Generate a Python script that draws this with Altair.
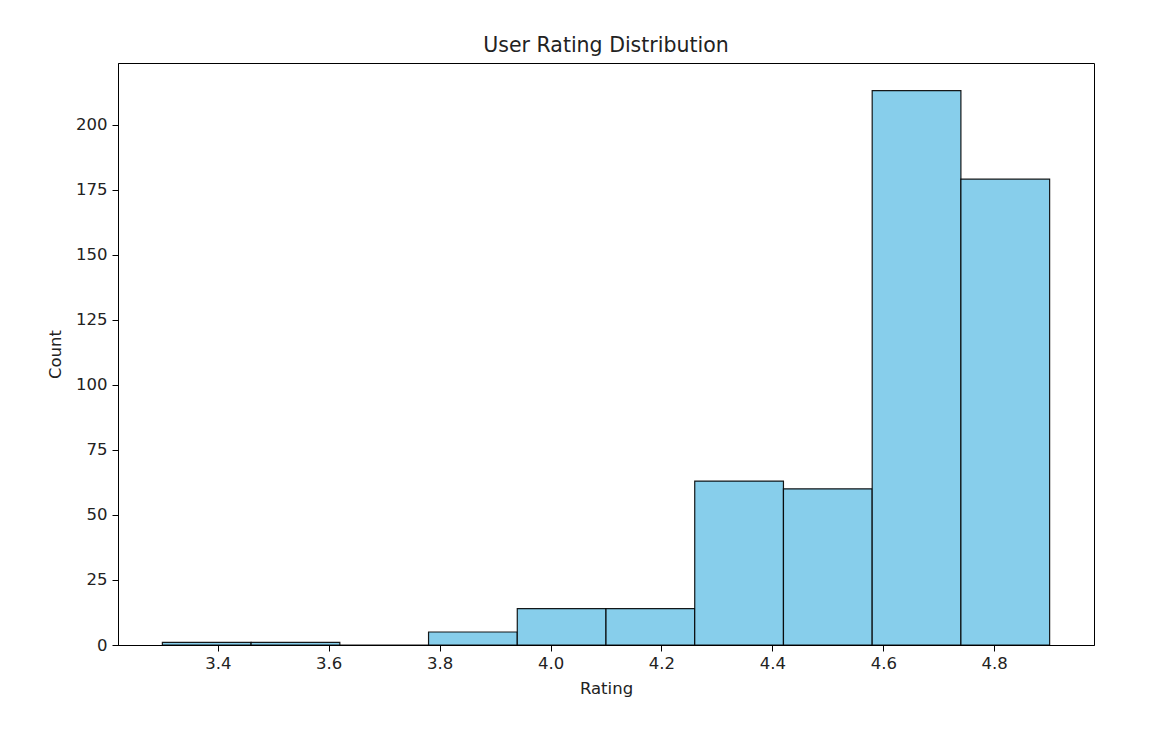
import altair as alt
import pandas as pd

bin_starts = [3.30, 3.46, 3.62, 3.78, 3.94, 4.10, 4.26, 4.42, 4.58, 4.74]
bin_ends = [3.46, 3.62, 3.78, 3.94, 4.10, 4.26, 4.42, 4.58, 4.74, 4.90]
counts = [1, 1, 0, 5, 14, 14, 63, 60, 213, 179]
x_ticks = [3.4, 3.6, 3.8, 4.0, 4.2, 4.4, 4.6, 4.8]
y_ticks = [0, 25, 50, 75, 100, 125, 150, 175, 200]

df = pd.DataFrame({"start": bin_starts, "end": bin_ends, "count": counts, "base": [0] * len(counts)})

font = "DejaVu Sans"
fs = 16.5

chart = alt.Chart(df).mark_bar(
    color="#87CEEB", stroke="black", strokeWidth=1.2, strokeOpacity=0.9
).encode(
    x=alt.X("start:Q", title="Rating",
            scale=alt.Scale(domain=[3.22, 4.98], nice=False, zero=False),
            axis=alt.Axis(values=x_ticks, format=".1f", grid=False,
                          labelFontSize=fs, titleFontSize=fs, labelFont=font, titleFont=font,
                          labelColor="#222", titleColor="#222", titleFontWeight="normal",
                          domainColor="black", tickColor="black", tickSize=6,
                          labelPadding=4, titlePadding=9, labelFlush=False)),
    x2="end:Q",
    y=alt.Y("count:Q", title="Count",
            scale=alt.Scale(domain=[0, 223.65], nice=False),
            axis=alt.Axis(values=y_ticks, grid=False,
                          labelFontSize=fs, titleFontSize=fs, labelFont=font, titleFont=font,
                          labelColor="#222", titleColor="#222", titleFontWeight="normal",
                          domainColor="black", tickColor="black", tickSize=6,
                          labelPadding=5, titlePadding=12, labelFlush=False)),
    y2="base:Q",
).properties(
    width=976, height=582,
    title=alt.TitleParams("User Rating Distribution", fontSize=20.5, font=font,
                          fontWeight="normal", color="#222", offset=7),
    autosize=alt.AutoSizeParams(type="none"),
    padding={"left": 110, "top": 55, "right": 50, "bottom": 80},
).configure_view(stroke="black", strokeWidth=1)

chart.save("out.html", embed_options={"renderer": "svg", "actions": False})
